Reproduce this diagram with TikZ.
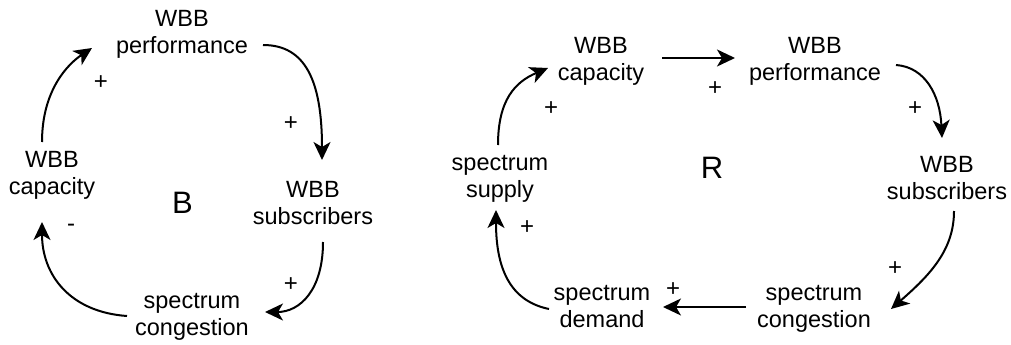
\documentclass[tikz,border=0pt]{standalone}
\usepackage{fontspec}
\setmainfont{Liberation Sans}
\usetikzlibrary{arrows.meta}
\begin{document}
\begin{tikzpicture}[x=1pt,y=-1pt,
  var/.style={align=center, inner sep=0pt, anchor=base, font=\fontsize{23.5}{27}\selectfont},
  sign/.style={inner sep=0pt, font=\fontsize{24}{27}\selectfont},
  loopname/.style={inner sep=0pt, anchor=base, font=\fontsize{31}{36}\selectfont},
  link/.style={line width=2pt, -{Stealth[length=18pt,width=17pt,inset=5pt]}}]
\useasboundingbox[fill=white] (0,0) rectangle (1011,345);
% ---------- left loop (B) ----------
\node[var] (perf1) at (182,53) {WBB\\performance};
\node[var] (cap1)  at (52,194) {WBB\\capacity};
\node[var] (sub1)  at (313,224) {WBB\\subscribers};
\node[var] (cong1) at (192,335) {spectrum\\congestion};
\node[loopname] (B) at (182.5,213) {B};
\draw[link] ([shift={(-10,-52)}]cap1.base) .. controls (42,90) and (68,64) .. ([shift={(-90,-5)}]perf1.base);
\draw[link] ([shift={(81,-8)}]perf1.base) .. controls (305,45) and (322,80) .. ([shift={(9,-64)}]sub1.base);
\draw[link] ([shift={(10,18)}]sub1.base) .. controls (323,290) and (300,312) .. ([shift={(73,-23)}]cong1.base);
\draw[link] ([shift={(-65,-19)}]cong1.base) .. controls (70,312) and (42,275) .. ([shift={(-10,28)}]cap1.base);
\node[sign] (s1) at (101,83) {+};
\node[sign] (s2) at (291,124) {+};
\node[sign] (s3) at (291,285) {+};
\node[sign,anchor=base] (s4) at (71,231) {-};
% ---------- right loop (R) ----------
\node[var] (cap2)  at (601,80) {WBB\\capacity};
\node[var] (perf2) at (815,80) {WBB\\performance};
\node[var] (sub2)  at (947,199) {WBB\\subscribers};
\node[var] (sup2)  at (500,197) {spectrum\\supply};
\node[var] (dem2)  at (602,327) {spectrum\\demand};
\node[var] (cong2) at (814,327) {spectrum\\congestion};
\node[loopname] (R) at (712,178) {R};
\draw[link] ([shift={(-2,-52)}]sup2.base) .. controls (498,100) and (515,82) .. ([shift={(-53,-12)}]cap2.base);
\draw[link] ([shift={(61,-22)}]cap2.base) -- ([shift={(-80,-22)}]perf2.base);
\draw[link] ([shift={(81,-15)}]perf2.base) .. controls (925,67) and (940,95) .. ([shift={(-5,-61)}]sub2.base);
\draw[link] ([shift={(7,12)}]sub2.base) .. controls (954,250) and (930,275) .. ([shift={(77,-18)}]cong2.base);
\draw[link] ([shift={(-68,-20)}]cong2.base) -- ([shift={(61,-20)}]dem2.base);
\draw[link] ([shift={(-53,-18)}]dem2.base) .. controls (505,300) and (496,260) .. ([shift={(-4,13)}]sup2.base);
\node[sign] (s5) at (551,109) {+};
\node[sign] (s6) at (715,89) {+};
\node[sign] (s7) at (915,109) {+};
\node[sign] (s8) at (895,269) {+};
\node[sign] (s9) at (673,290) {+};
\node[sign] (s10) at (527,228) {+};
\end{tikzpicture}
\end{document}
